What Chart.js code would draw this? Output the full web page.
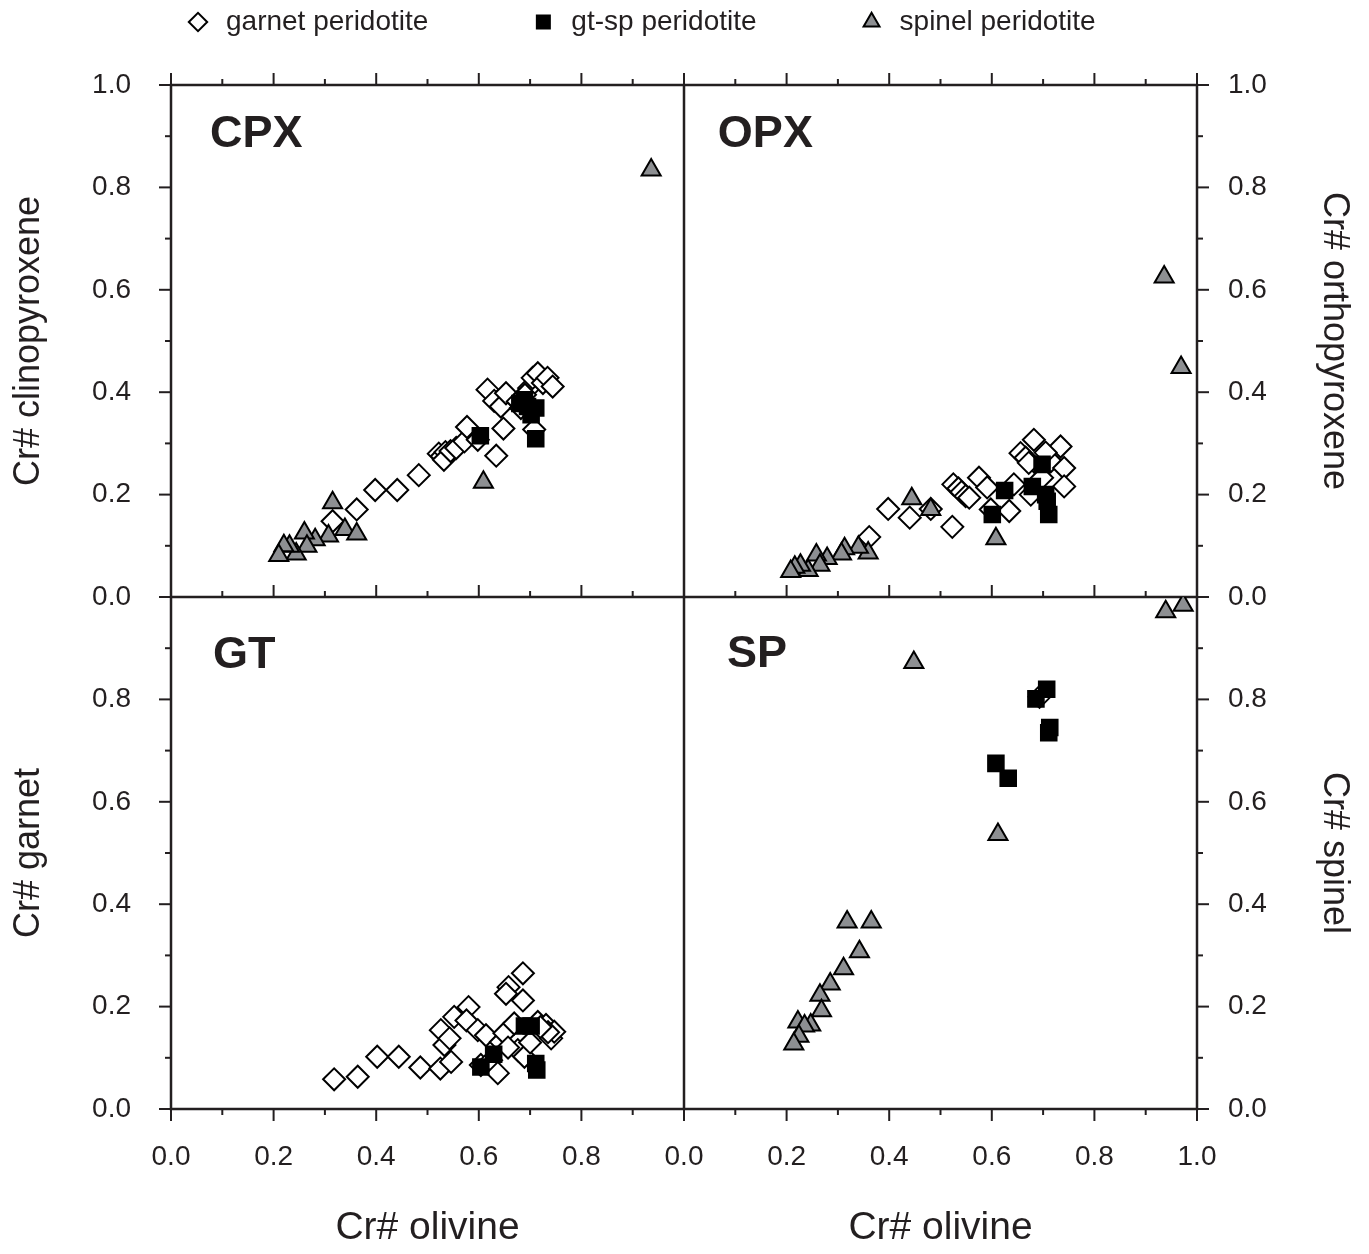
<!DOCTYPE html>
<html>
<head>
<meta charset="utf-8">
<script src="https://cdn.jsdelivr.net/npm/chart.js@4.4.1/dist/chart.umd.min.js"></script>
<style>
  body { margin: 0; background: #fff; }
  #wrap { position: relative; width: 1369px; height: 1254px; }
</style>
</head>
<body>
<div id="wrap"><canvas id="chart"></canvas></div>
<script>
// series names, in legend order
const seriesLabels = ['garnet peridotite', 'gt-sp peridotite', 'spinel peridotite'];

// [Cr# olivine, Cr# of mineral]
const cpxGarnet = [[0.315,0.148],[0.362,0.171],[0.398,0.209],[0.441,0.209],[0.483,0.238],[0.522,0.280],[0.528,0.275],[0.535,0.283],[0.532,0.268],[0.545,0.285],[0.556,0.291],[0.572,0.304],[0.577,0.332],[0.598,0.307],[0.634,0.276],[0.648,0.329],[0.617,0.405],[0.630,0.383],[0.643,0.372],[0.653,0.398],[0.676,0.382],[0.682,0.369],[0.708,0.327],[0.698,0.408],[0.705,0.428],[0.715,0.437],[0.725,0.418],[0.734,0.428],[0.744,0.411],[0.690,0.395]];
const cpxGtSp = [[0.603,0.315],[0.711,0.309],[0.702,0.356],[0.711,0.369],[0.689,0.385],[0.680,0.378],[0.695,0.372]];
const cpxSpinel = [[0.936,0.834],[0.609,0.224],[0.315,0.184],[0.339,0.132],[0.362,0.123],[0.307,0.119],[0.281,0.112],[0.260,0.125],[0.265,0.099],[0.244,0.084],[0.231,0.099],[0.220,0.100],[0.210,0.081]];

const opxGarnet = [[0.361,0.117],[0.398,0.172],[0.440,0.155],[0.481,0.172],[0.523,0.137],[0.525,0.220],[0.535,0.212],[0.541,0.205],[0.549,0.197],[0.556,0.194],[0.575,0.233],[0.591,0.214],[0.598,0.171],[0.634,0.168],[0.643,0.220],[0.656,0.281],[0.666,0.272],[0.682,0.307],[0.676,0.200],[0.695,0.252],[0.698,0.233],[0.715,0.265],[0.734,0.294],[0.741,0.252],[0.741,0.216],[0.672,0.262],[0.705,0.282]];
const opxGtSp = [[0.601,0.161],[0.625,0.208],[0.679,0.216],[0.698,0.259],[0.708,0.187],[0.711,0.161],[0.705,0.200]];
const opxSpinel = [[0.936,0.625],[0.969,0.448],[0.444,0.192],[0.481,0.171],[0.608,0.114],[0.359,0.086],[0.340,0.097],[0.313,0.094],[0.307,0.084],[0.279,0.075],[0.258,0.082],[0.265,0.062],[0.242,0.052],[0.227,0.062],[0.216,0.058],[0.208,0.050]];

const gtGarnet = [[0.318,0.058],[0.364,0.063],[0.402,0.102],[0.444,0.102],[0.486,0.081],[0.525,0.079],[0.546,0.092],[0.526,0.154],[0.533,0.125],[0.543,0.138],[0.552,0.180],[0.580,0.199],[0.576,0.173],[0.598,0.154],[0.614,0.144],[0.604,0.086],[0.624,0.095],[0.637,0.070],[0.643,0.131],[0.650,0.148],[0.658,0.238],[0.653,0.225],[0.686,0.265],[0.686,0.212],[0.669,0.167],[0.676,0.115],[0.689,0.102],[0.715,0.170],[0.731,0.164],[0.741,0.138],[0.747,0.151],[0.735,0.150],[0.657,0.120],[0.700,0.130],[0.720,0.160]];
const gtGtSp = [[0.604,0.082],[0.629,0.107],[0.689,0.162],[0.702,0.162],[0.711,0.089],[0.713,0.076]];
const gtSpinel = [];

const spGarnet = [[0.693,0.805]];
const spGtSp = [[0.707,0.820],[0.686,0.801],[0.713,0.745],[0.711,0.735],[0.608,0.675],[0.632,0.646]];
const spSpinel = [[0.939,0.971],[0.973,0.984],[0.448,0.872],[0.612,0.536],[0.318,0.365],[0.365,0.365],[0.342,0.307],[0.311,0.274],[0.285,0.244],[0.265,0.222],[0.268,0.192],[0.247,0.164],[0.222,0.170],[0.235,0.162],[0.224,0.142],[0.214,0.127]];

const ink = '#231f20';
Chart.defaults.font.family = "'Liberation Sans', Arial, Helvetica, sans-serif";
Chart.defaults.color = ink;

const styles = [
  {pointStyle: 'rectRot', bg: '#ffffff', order: 3},
  {pointStyle: 'rect', bg: '#000000', order: 2},
  {pointStyle: 'triangle', bg: '#8d8f92', order: 1}
];

const panels = [
  {x: 'xL', y: 'yT', name: 'CPX', series: [cpxGarnet, cpxGtSp, cpxSpinel]},
  {x: 'xR', y: 'yT', name: 'OPX', series: [opxGarnet, opxGtSp, opxSpinel]},
  {x: 'xL', y: 'yB', name: 'GT', series: [gtGarnet, gtGtSp, gtSpinel]},
  {x: 'xR', y: 'yB', name: 'SP', series: [spGarnet, spGtSp, spSpinel]}
];

const datasets = [];
panels.forEach(p => {
  p.series.forEach((s, i) => {
    datasets.push({
      label: seriesLabels[i],
      data: s.map(v => ({x: v[0], y: v[1]})),
      xAxisID: p.x,
      yAxisID: p.y,
      pointStyle: styles[i].pointStyle,
      backgroundColor: styles[i].bg,
      borderColor: '#000000',
      borderWidth: 2,
      pointBorderWidth: 2,
      pointRadius: 11,
      pointHoverRadius: 11,
      order: styles[i].order
    });
  });
});

const fmt = v => v.toFixed(1);
const fmtNoTop = v => Math.abs(v - 1) < 1e-6 ? '' : v.toFixed(1);

function axis(extra) {
  return Object.assign({
    type: 'linear', min: 0, max: 1, stackWeight: 1,
    grid: {display: false, drawTicks: false},
    border: {display: false}
  }, extra);
}
function xTicks(cb) {
  return {stepSize: 0.2, padding: 31, autoSkip: false, maxRotation: 0, font: {size: 28}, color: ink, callback: cb};
}
function yTicks(cb, pad) {
  return {stepSize: 0.2, padding: pad, autoSkip: false, font: {size: 28}, color: ink, callback: cb};
}
function yTitle(text, pad) {
  return {display: true, text: text, font: {size: 36}, color: ink, padding: {top: pad, bottom: 0}};
}
const xTitle = {display: true, text: 'Cr# olivine', font: {size: 39}, color: ink, padding: {top: 0, bottom: 2}};

// frame, inner dividers and tick marks, placed by the scales
const framePlugin = {
  id: 'frame',
  beforeDatasetsDraw(chart) {
    const {ctx} = chart;
    const {xL, xR, yT, yB, yTR, yBR} = chart.scales;
    const left = xL.getPixelForValue(0), mid = xL.getPixelForValue(1), right = xR.getPixelForValue(1);
    const top = yT.getPixelForValue(1), midY = yT.getPixelForValue(0), bottom = yB.getPixelForValue(0);
    const line = (x1, y1, x2, y2) => { ctx.beginPath(); ctx.moveTo(x1, y1); ctx.lineTo(x2, y2); ctx.stroke(); };
    ctx.save();
    ctx.strokeStyle = ink;
    ctx.lineWidth = 2;
    for (let i = 0; i <= 10; i++) {
      const v = i / 10;
      const len = i % 2 === 0 ? 12 : 6;
      [xL, xR].forEach(s => {
        const px = s.getPixelForValue(v);
        line(px, top, px, top - len);
        line(px, midY, px, midY - len);
        line(px, bottom, px, bottom + len);
      });
      [yT, yB].forEach(s => {
        const py = s.getPixelForValue(v);
        line(left, py, left - len, py);
      });
      [yTR, yBR].forEach(s => {
        const py = s.getPixelForValue(v);
        line(right, py, right + len, py);
      });
    }
    ctx.lineWidth = 2.5;
    ctx.strokeRect(left, top, right - left, bottom - top);
    line(mid, top, mid, bottom);
    line(left, midY, right, midY);
    ctx.restore();
  }
};

// bold panel names in the upper-left corner of each panel
const panelLabelPlugin = {
  id: 'panelLabels',
  afterDraw(chart) {
    const {ctx, scales} = chart;
    const spots = {CPX: [0.076, 0.878], OPX: [0.066, 0.878], GT: [0.082, 0.862], SP: [0.084, 0.864]};
    ctx.save();
    ctx.fillStyle = ink;
    ctx.font = "bold 45px 'Liberation Sans', Arial, sans-serif";
    ctx.textBaseline = 'alphabetic';
    ctx.textAlign = 'left';
    panels.forEach(p => {
      const s = spots[p.name];
      ctx.fillText(p.name, scales[p.x].getPixelForValue(s[0]), scales[p.y].getPixelForValue(s[1]));
    });
    ctx.restore();
  }
};

// move the legend row to where it sits in the figure
const legendPlacePlugin = {
  id: 'legendPlace',
  afterUpdate(chart) {
    chart.legend.left = 83;
    chart.legend.top = -93;
  }
};

new Chart(document.getElementById('chart'), {
  type: 'scatter',
  data: {datasets: datasets},
  options: {
    responsive: true,
    maintainAspectRatio: false,
    animation: false,
    events: [],
    layout: {padding: 0},
    plugins: {
      tooltip: {enabled: false},
      legend: {
        position: 'top',
        align: 'start',
        maxHeight: 85,
        labels: {
          usePointStyle: true,
          boxHeight: 13,
          padding: 101,
          color: ink,
          font: {size: 28},
          filter: item => item.datasetIndex < 3,
          sort: (a, b) => a.datasetIndex - b.datasetIndex
        }
      }
    },
    scales: {
      xL: axis({axis: 'x', position: 'bottom', stack: 'xb', ticks: xTicks(fmtNoTop), title: xTitle, afterFit: s => { s.height = 145; }}),
      xR: axis({axis: 'x', position: 'bottom', stack: 'xb', ticks: xTicks(fmt), title: xTitle, afterFit: s => { s.height = 145; }}),
      yB: axis({axis: 'y', position: 'left', stack: 'yl', ticks: yTicks(fmtNoTop, 40), title: yTitle('Cr# garnet', 7), afterFit: s => { s.width = 171; }}),
      yT: axis({axis: 'y', position: 'left', stack: 'yl', ticks: yTicks(fmt, 40), title: yTitle('Cr# clinopyroxene', 7), afterFit: s => { s.width = 171; }}),
      yTR: axis({axis: 'y', position: 'right', stack: 'yr', ticks: yTicks(fmt, 31), title: yTitle('Cr# orthopyroxene', 13), afterFit: s => { s.width = 172; }}),
      yBR: axis({axis: 'y', position: 'right', stack: 'yr', ticks: yTicks(fmtNoTop, 31), title: yTitle('Cr# spinel', 13), afterFit: s => { s.width = 172; }})
    }
  },
  plugins: [framePlugin, panelLabelPlugin, legendPlacePlugin]
});
</script>
</body>
</html>
